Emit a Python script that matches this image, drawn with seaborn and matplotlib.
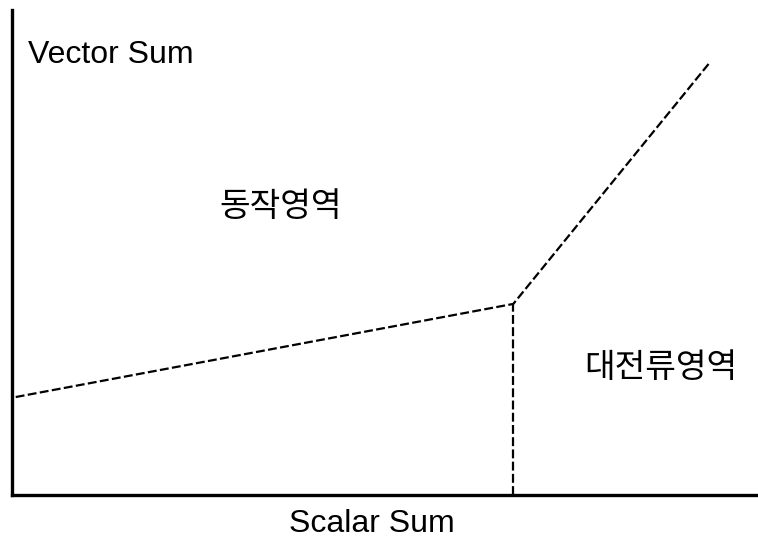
import pandas as pd
import matplotlib.pyplot as plt
import seaborn as sns

# boundary line of the operating region (0-100 scale)
scalar_sum = [0.5, 67.2, 93.6]
vector_sum = [20.2, 39.4, 89.3]

# vertical divider dropping from the knee to the axis
divider_x = [67.2, 67.2]
divider_y = [0.0, 39.4]

region_labels = ["동작영역", "대전류영역"]
label_x = [36.0, 87.0]
label_y = [59.4, 26.2]

sns.set_style("white")
plt.rcParams['font.family'] = ['Liberation Sans', 'DejaVu Sans']
plt.rcParams['text.color'] = 'black'

fig = plt.figure(figsize=(7.58, 5.41), dpi=100)
ax = fig.add_axes([12 / 758, 46 / 541, 746 / 758, 485 / 541])

boundary = pd.DataFrame({"scalar": scalar_sum, "vector": vector_sum})
divider = pd.DataFrame({"scalar": divider_x, "vector": divider_y})

sns.lineplot(data=boundary, x="scalar", y="vector", ax=ax, color="black",
             linewidth=1.6, sort=False, estimator=None)
sns.lineplot(data=divider, x="scalar", y="vector", ax=ax, color="black",
             linewidth=1.6, sort=False, estimator=None)
for line in ax.lines:
    line.set_dashes((4, 1.5))

for text, x, y in zip(region_labels, label_x, label_y):
    ax.text(x, y, text, ha="center", va="center", fontsize=24,
            color="black", family=['Noto Sans CJK KR', 'DejaVu Sans'])

ax.text(2.1, 90.7, "Vector Sum", ha="left", va="center", fontsize=23,
        color="black")

ax.set_xlim(0, 100)
ax.set_ylim(0, 100)
ax.set_xticks([])
ax.set_yticks([])
ax.set_xlabel("")
ax.set_ylabel("")
sns.despine(ax=ax)
for side in ["left", "bottom"]:
    ax.spines[side].set_linewidth(2.4)
    ax.spines[side].set_color("black")

fig.text(372 / 758, 1 - 524 / 541, "Scalar Sum", ha="center", va="center",
         fontsize=23, color="black")

fig.savefig("out.png", dpi=100)
